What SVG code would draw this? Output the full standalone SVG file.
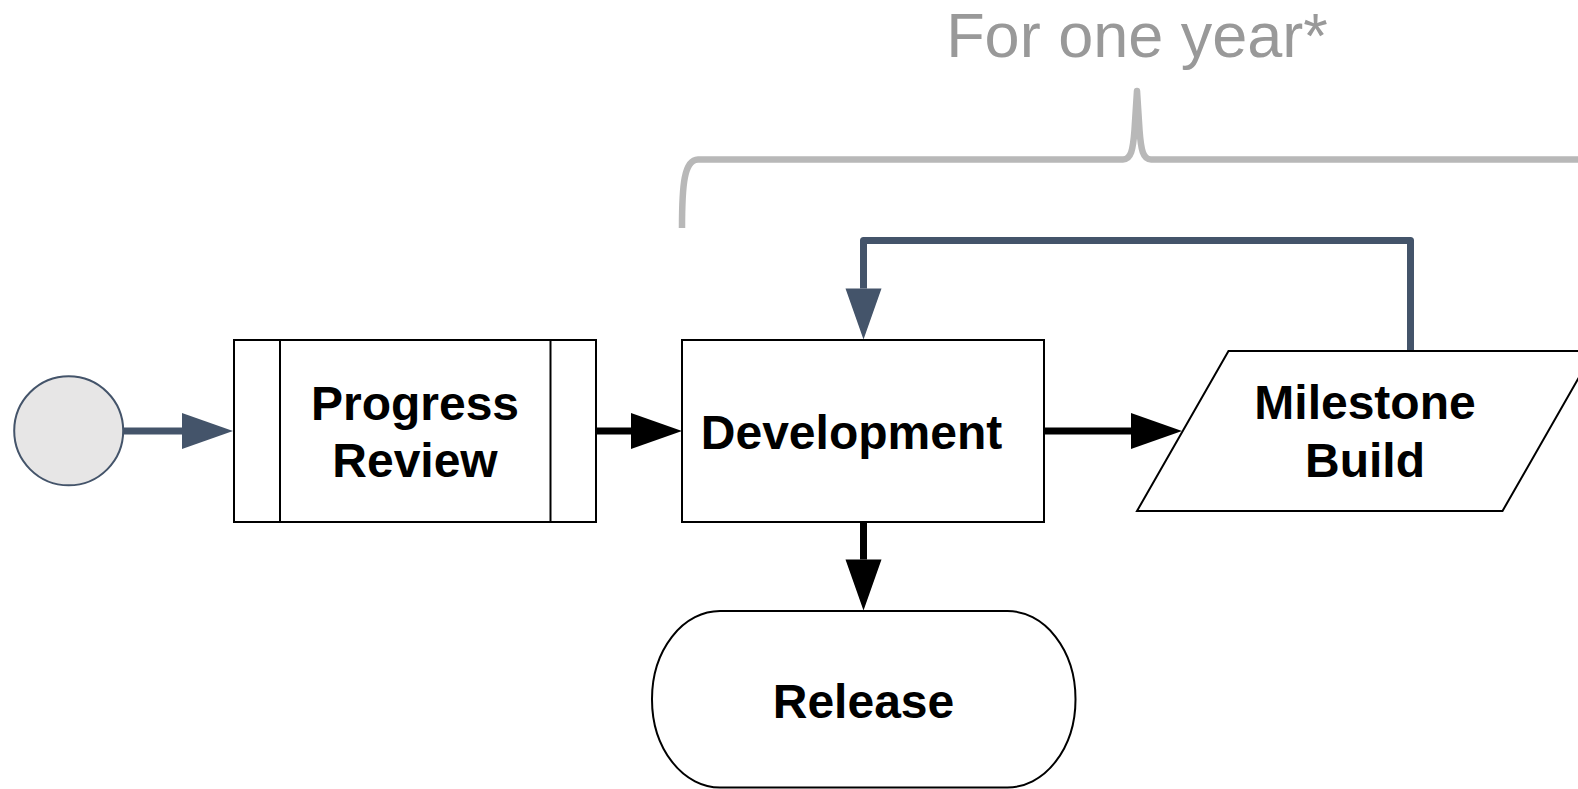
<svg xmlns="http://www.w3.org/2000/svg" width="1578" height="789" viewBox="0 0 1578 789">
  <defs>
    <style>
      .box { fill: #ffffff; stroke: #000000; stroke-width: 2; }
      .lbl { font-family: "Liberation Sans", Arial, sans-serif; font-weight: bold; font-size: 48px; fill: #000000; text-anchor: middle; }
      .title { font-family: "Liberation Sans", Arial, sans-serif; font-size: 63px; fill: #999999; text-anchor: middle; }
      .blk { fill: none; stroke: #000000; stroke-width: 7; }
      .slate { fill: none; stroke: #44546a; stroke-width: 7; stroke-linejoin: round; }
      .brace { fill: none; stroke: #b8b8b8; stroke-width: 6.5; stroke-linejoin: round; stroke-linecap: butt; }
    </style>
    <marker id="ahBlack" markerUnits="userSpaceOnUse" markerWidth="52" markerHeight="38" refX="0" refY="18" orient="auto" overflow="visible">
      <path d="M0,0 L51,18 L0,36 Z" fill="#000000"/>
    </marker>
    <marker id="ahSlate" markerUnits="userSpaceOnUse" markerWidth="52" markerHeight="38" refX="0" refY="18" orient="auto" overflow="visible">
      <path d="M0,0 L51,18 L0,36 Z" fill="#44546a"/>
    </marker>
  </defs>
  <rect width="1578" height="789" fill="#ffffff"/>

  <g id="annotation">
    <text class="title" x="1137" y="57">For one year*</text>
    <path class="brace" d="M682,228 C682,185 684,160 698,159.5 L1123,159.5 C1131,159.5 1133,150 1134.5,130 C1135.5,115 1136.5,100 1137,91 C1137.5,100 1138.5,115 1139.5,130 C1141,150 1143,159.5 1151,159.5 L1580,159.5"/>
  </g>

  <g id="connectors">
    <path class="slate" d="M123.5,431 L182,431" marker-end="url(#ahSlate)"/>
    <path class="blk" d="M597,431 L631,431" marker-end="url(#ahBlack)"/>
    <path class="blk" d="M1044,431 L1131,431" marker-end="url(#ahBlack)"/>
    <path class="blk" d="M863.5,522 L863.5,559.5" marker-end="url(#ahBlack)"/>
    <path class="slate" d="M1410.5,350 L1410.5,240.5 L863.5,240.5 L863.5,288.5" marker-end="url(#ahSlate)"/>
  </g>

  <g id="start">
    <circle cx="68.7" cy="430.8" r="54.5" fill="#e7e6e6" stroke="#44546a" stroke-width="2"/>
  </g>

  <g id="progress-review">
    <rect class="box" x="234" y="340" width="362" height="182"/>
    <line x1="280" y1="340" x2="280" y2="522" stroke="#000" stroke-width="2"/>
    <line x1="550.5" y1="340" x2="550.5" y2="522" stroke="#000" stroke-width="2"/>
    <text class="lbl" x="415" y="419.5">Progress</text>
    <text class="lbl" x="415" y="477">Review</text>
  </g>

  <g id="development">
    <rect class="box" x="682" y="340" width="362" height="182"/>
    <text class="lbl" x="851.5" y="449">Development</text>
  </g>

  <g id="milestone-build">
    <polygon class="box" points="1228.5,351 1594,351 1502.5,511 1137,511"/>
    <text class="lbl" x="1365" y="418.5">Milestone</text>
    <text class="lbl" x="1365" y="476.7">Build</text>
  </g>

  <g id="release">
    <rect class="box" x="652" y="611" width="423.5" height="176.5" rx="68" ry="88"/>
    <text class="lbl" x="863.5" y="718.3">Release</text>
  </g>
</svg>
